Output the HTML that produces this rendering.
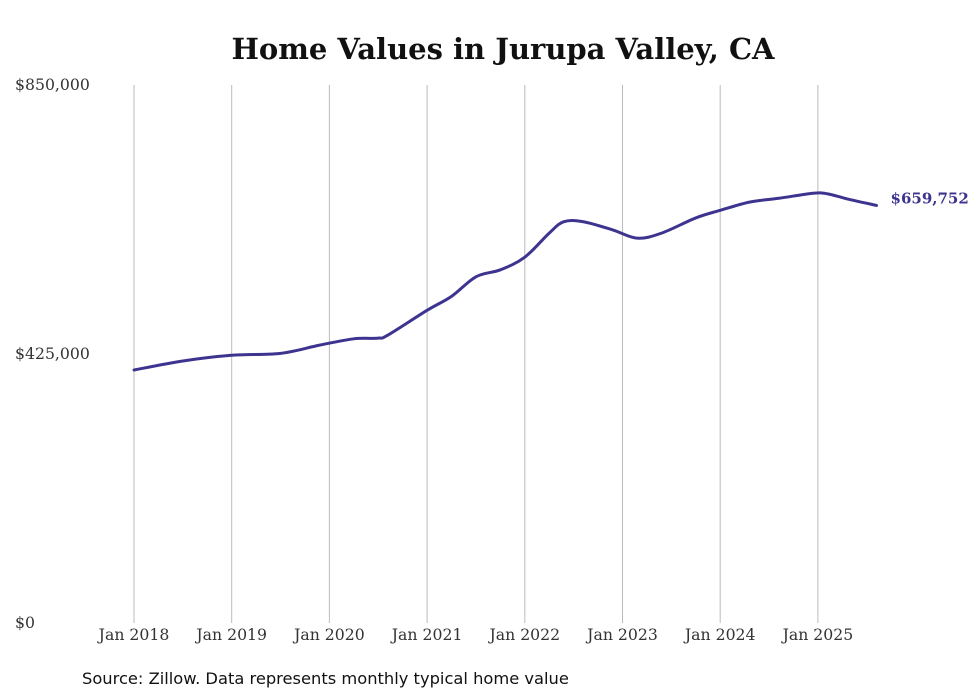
<!DOCTYPE html>
<html><head><meta charset="utf-8"><style>
body{margin:0;background:#fff;}
svg{display:block;}
</style></head><body>
<svg id="chart" width="980" height="699" viewBox="0 0 980 699" xmlns="http://www.w3.org/2000/svg">
<text x="503" y="59" text-anchor="middle" font-family="'DejaVu Serif', 'Liberation Serif', serif" font-weight="bold" font-size="29" fill="#111">Home Values in Jurupa Valley, CA</text>
<g id="grid"></g>
<g id="yaxis"></g>
<g id="xaxis"></g>
<path id="line" fill="none" stroke="#3d3490" stroke-width="3" stroke-linejoin="round" stroke-linecap="round"/>
<text id="endlabel" font-family="'DejaVu Serif', 'Liberation Serif', serif" font-weight="bold" font-size="15" fill="#3d3490"></text>
<text x="82" y="684" font-family="'DejaVu Sans', 'Liberation Sans', sans-serif" font-size="16.3" fill="#111">Source: Zillow. Data represents monthly typical home value</text>
</svg>
<script>
const dates = [2018.0,2018.5,2019.0,2019.5,2019.9,2020.25,2020.5,2020.6,2021.0,2021.25,2021.5,2021.75,2022.0,2022.25,2022.4,2022.6,2022.9,2023.15,2023.4,2023.75,2024.0,2024.3,2024.6,2024.95,2025.1,2025.3,2025.6];
const values = [399700,414000,423000,426000,439000,449000,450000,455000,494000,516000,547000,558000,578000,616000,634000,634000,621000,608000,616000,640000,652000,665000,671000,679000,678000,670000,659752];
const xTickYears = [2018,2019,2020,2021,2022,2023,2024,2025];
const yTicks = [0,425000,850000];
const yTickLabels = ["$0","$425,000","$850,000"];
const endLabel = "$659,752";

const NS="http://www.w3.org/2000/svg";
const x = d => 134 + (d-2018)*97.7;
const y = v => 623 - v/850000*538;
const grid=document.getElementById('grid'), xa=document.getElementById('xaxis'), ya=document.getElementById('yaxis');
xTickYears.forEach(yr=>{
  const l=document.createElementNS(NS,'line');
  
  
  l.setAttribute('x1',x(yr));l.setAttribute('x2',x(yr));l.setAttribute('y1',85);l.setAttribute('y2',623);
  l.setAttribute('stroke','#bbb');l.setAttribute('stroke-width','1');
  grid.appendChild(l);
  const t=document.createElementNS(NS,'text');
  
  
  t.setAttribute('x',x(yr));t.setAttribute('y',640);t.setAttribute('text-anchor','middle');
  t.setAttribute('font-family',"'DejaVu Serif','Liberation Serif',serif");t.setAttribute('font-size','15.7');t.setAttribute('fill','#333');
  t.textContent='Jan '+yr; xa.appendChild(t);
});
yTicks.forEach((v,i)=>{
  const t=document.createElementNS(NS,'text');
  
  
  t.setAttribute('x',15);t.setAttribute('y',y(v)+5);
  t.setAttribute('font-family',"'DejaVu Serif','Liberation Serif',serif");t.setAttribute('font-size','15.7');t.setAttribute('fill','#333');
  t.textContent=yTickLabels[i]; ya.appendChild(t);
});
const pts=dates.map((d,i)=>[x(d),y(values[i])]);
let dstr='M'+pts[0][0]+','+pts[0][1];
for(let i=0;i<pts.length-1;i++){
  const p0=pts[i-1]||pts[i],p1=pts[i],p2=pts[i+1],p3=pts[i+2]||p2;
  const c1=[p1[0]+(p2[0]-p0[0])/6,p1[1]+(p2[1]-p0[1])/6];
  const c2=[p2[0]-(p3[0]-p1[0])/6,p2[1]-(p3[1]-p1[1])/6];
  dstr+=' C'+c1+' '+c2+' '+p2;
}
document.getElementById('line').setAttribute('d',dstr);
const last=pts[pts.length-1];
const el=document.getElementById('endlabel');
el.setAttribute('x',last[0]+14);el.setAttribute('y',last[1]-2);el.textContent=endLabel;
</script>
</body></html>
